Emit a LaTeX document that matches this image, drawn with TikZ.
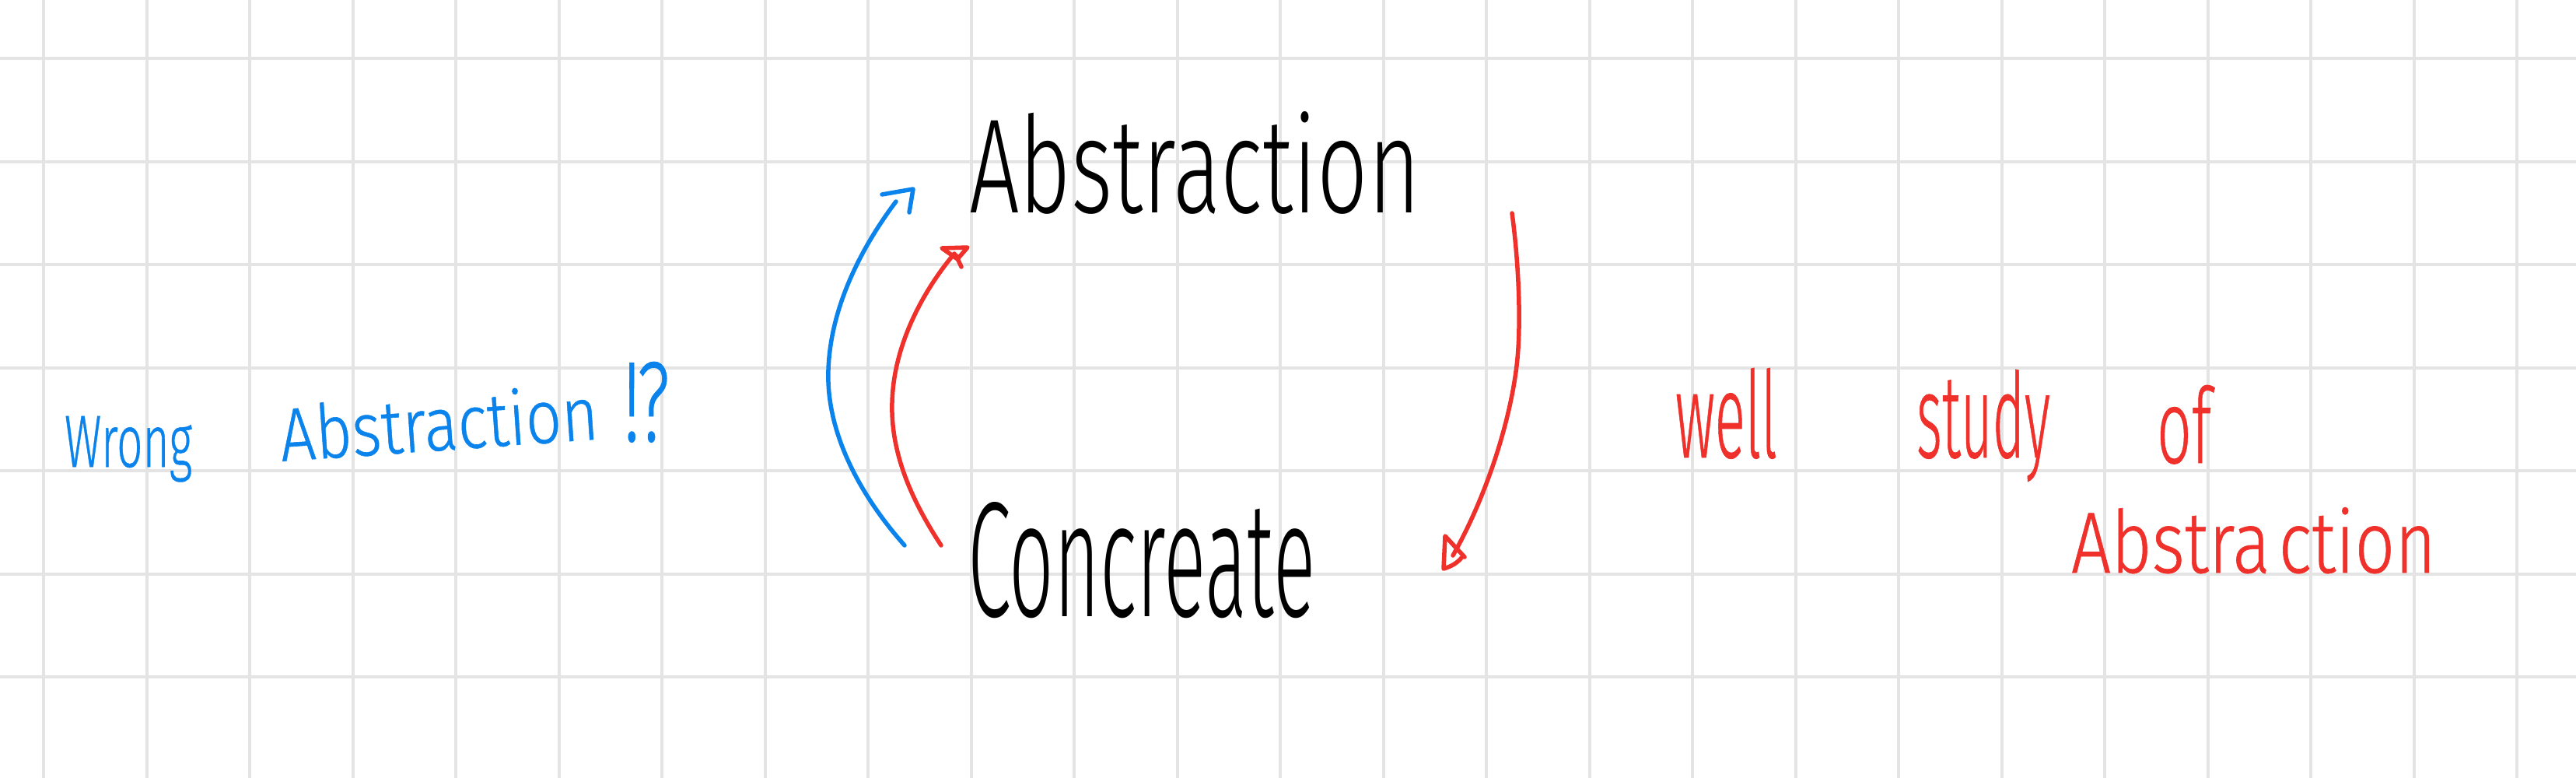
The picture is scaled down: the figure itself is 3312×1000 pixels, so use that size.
\documentclass[tikz,border=0pt]{standalone}
\usepackage{fontspec}
\usepackage{graphicx}
\IfFontExistsTF{Fira Sans Light}{%
  \newfontfamily\hand{Fira Sans Light}%
  \newfontfamily\handc{Fira Sans Light}[FakeBold=0.6]}{%
  \newfontfamily\hand{Lato}\newfontfamily\handc{Lato}}
\newlength\pxu
\setlength\pxu{0.01cm}
\newcommand\hw[3]{\resizebox{#1\pxu}{#2\pxu}{\hand #3}}
\newcommand\hwc[3]{\resizebox{#1\pxu}{#2\pxu}{\handc #3}}
\definecolor{gridc}{HTML}{E4E4E4}
\definecolor{penblue}{HTML}{0A84EC}
\definecolor{penred}{HTML}{F0302A}
\begin{document}
\begin{tikzpicture}[x=0.01cm,y=-0.01cm,
  gridline/.style={draw=gridc,line width=0.04cm},
  pen/.style={line width=0.055cm,line cap=round,line join=round},
  word/.style={inner sep=0pt,outer sep=0pt,anchor=base west}]
\fill[white] (0,0) rectangle (3312,1000);
\useasboundingbox (0,0) rectangle (3312,1000);
\foreach \i in {0,...,24} \draw[gridline] ({56+132.5*\i},0) -- ({56+132.5*\i},1000);
\foreach \j in {0,...,6} \draw[gridline] (0,{75+132.5*\j}) -- (3312,{75+132.5*\j});

% words
\node[word] (abs) at (1246,273) {\hw{580}{130}{Abstraction}};
\node[word] (con) at (1244,792) {\hw{447}{147}{Concreate}};
\node[word,text=penblue] (wrong) at (83,600) {\hwc{164}{65}{Wrong}};
\node[word,text=penblue,rotate=4] (wabs) at (362,593) {\hwc{410}{73}{Abstraction}};
\node[word,text=penblue] (exc) at (801,567) {\hwc{60}{102}{!\kern-0.05em?}};
\node[word,text=penred] (well) at (2154,588) {\hwc{131}{115}{well}};
\node[word,text=penred] (study) at (2464,588) {\hwc{172}{113}{study}};
\node[word,text=penred] (of) at (2773,595) {\hwc{70}{100}{of}};
\node[word,text=penred] (sabs) at (2663,736) {\hwc{469}{84}{Abstra\hspace{0.12em}ction}};

% arrow end points
\coordinate (b0) at (1163,701);
\coordinate (b1) at (1152,259);
\coordinate (r0) at (1210,701);
\coordinate (r1) at (1227,326);
\coordinate (d0) at (1944,274);
\coordinate (d1) at (1868,714);

% blue arrow (Concreate -> Abstraction, wrong)
\draw[pen,penblue] (b0) .. controls (1100,630) and (1062,550) .. (1065,475)
  .. controls (1068,390) and (1112,312) .. (b1);
\draw[pen,penblue] (1134,250) -- (1174,243) -- (1169,273);

% red arrow (Concreate -> Abstraction)
\draw[pen,penred] (r0) .. controls (1170,640) and (1145,580) .. (1147,517)
  .. controls (1149,440) and (1190,370) .. (r1);
\draw[pen,penred] (1211,319) -- (1244,318) -- (1231,333) -- cycle;
\draw[pen,penred] (1229,328) -- (1236,343);

% red arrow (Abstraction -> Concreate)
\draw[pen,penred] (d0) .. controls (1953,340) and (1956,420) .. (1950,470)
  .. controls (1941,545) and (1910,640) .. (d1);
\draw[pen,penred] (1883,716) -- (1858,689) -- (1856,731) .. controls (1866,728) and (1873,724) .. (1879,717);
\end{tikzpicture}
\end{document}
